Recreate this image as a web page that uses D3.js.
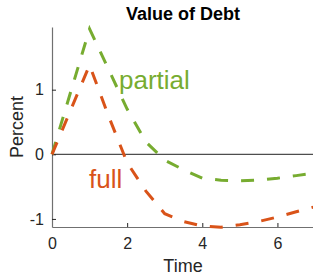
<!DOCTYPE html>
<html>
<head>
<meta charset="utf-8">
<script src="https://cdn.jsdelivr.net/npm/d3@7"></script>
<style>
  body { margin: 0; background: #fff; }
  svg { display: block; font-family: "Liberation Sans", Arial, sans-serif; }
</style>
</head>
<body>
<div id="chart"></div>
<script>
// data
var time = [0, 0.5, 1, 1.5, 2, 2.5, 3, 3.5, 4, 4.5, 5, 5.5, 6, 6.5, 7];
var partial = [0, 0.97, 1.94, 1.32, 0.70, 0.19, -0.09, -0.24, -0.37, -0.40, -0.41, -0.40, -0.37, -0.33, -0.29];
var full = [0, 0.69, 1.38, 0.60, -0.13, -0.57, -0.92, -1.04, -1.11, -1.13, -1.09, -1.04, -0.97, -0.89, -0.81];
var xTicks = [0, 2, 4, 6];
var yTicks = [-1, 0, 1];

var W = 313, H = 276;
var plotLeft = 52, plotRight = 315, plotTop = 27, plotBottom = 227;

var svg = d3.select('#chart').append('svg')
    .attr('width', W)
    .attr('height', H);

var x = d3.scaleLinear().domain([0, 7]).range([plotLeft, plotRight]);
var y = d3.scaleLinear().domain([-1.125, 1.97]).range([plotBottom, plotTop]);

var fmt = function(d){ return String(d); };

// axes (ticks point inward, like matlab)
var xAxis = d3.axisBottom(x).tickValues(xTicks).tickFormat(fmt).tickSizeInner(-4).tickSizeOuter(0).tickPadding(11);
var yAxis = d3.axisLeft(y).tickValues(yTicks).tickFormat(fmt).tickSizeInner(-4).tickSizeOuter(0).tickPadding(8);

var gx = svg.append('g').attr('transform', 'translate(0,' + plotBottom + ')').call(xAxis);
var gy = svg.append('g').attr('transform', 'translate(' + plotLeft + ',0)').call(yAxis);

[gx, gy].forEach(function(g){
    g.select('.domain').attr('stroke', '#707070').attr('stroke-width', 1.2);
    g.selectAll('.tick line').attr('stroke', '#262626').attr('stroke-width', 1);
    g.selectAll('.tick text').attr('fill', '#262626').style('font-size', '16px')
        .style('font-family', '"Liberation Sans", Arial, sans-serif');
});

// zero line
svg.append('line')
    .attr('x1', x(0)).attr('x2', x(7))
    .attr('y1', y(0)).attr('y2', y(0))
    .attr('stroke', '#222').attr('stroke-width', 1);

var line = d3.line()
    .x(function(d){ return x(d[0]); })
    .y(function(d){ return y(d[1]); });

var series = [
    {name: 'partial', vals: partial, color: '#77AC30'},
    {name: 'full', vals: full, color: '#D95319'}
];

svg.selectAll('path.series').data(series).enter().append('path')
    .attr('class', 'series')
    .attr('d', function(s){ return line(time.map(function(t, i){ return [t, s.vals[i]]; })); })
    .attr('fill', 'none')
    .attr('stroke', function(s){ return s.color; })
    .attr('stroke-width', 3)
    .attr('stroke-dasharray', '13,13');

// series labels
svg.append('text').attr('x', 119).attr('y', 89)
    .style('font-size', '26px').attr('fill', '#77AC30').text('partial');
svg.append('text').attr('x', 89).attr('y', 188)
    .style('font-size', '26px').attr('fill', '#D95319').text('full');

// title and axis labels
svg.append('text').attr('x', 183).attr('y', 20)
    .attr('text-anchor', 'middle')
    .style('font-size', '18px').style('font-weight', 'bold')
    .attr('fill', '#000').text('Value of Debt');

svg.append('text').attr('x', 183).attr('y', 272)
    .attr('text-anchor', 'middle')
    .style('font-size', '18px').attr('fill', '#262626').text('Time');

svg.append('text')
    .attr('transform', 'translate(23,127) rotate(-90)')
    .attr('text-anchor', 'middle')
    .style('font-size', '18px').attr('fill', '#262626').text('Percent');
</script>
</body>
</html>
